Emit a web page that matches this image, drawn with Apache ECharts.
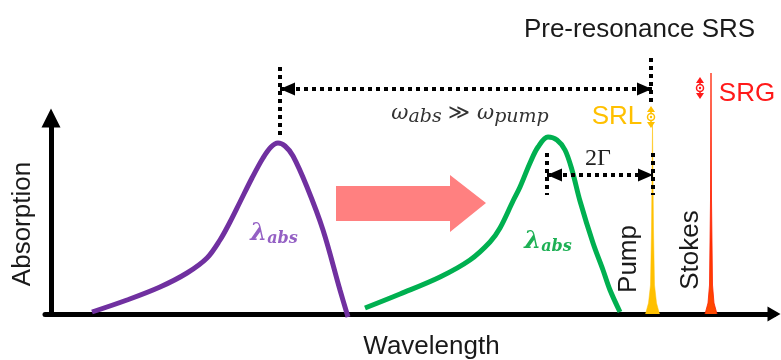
<!DOCTYPE html>
<html><head><meta charset="utf-8">
<script src="https://cdn.jsdelivr.net/npm/echarts@6/dist/echarts.min.js"></script>
<style>html,body{margin:0;padding:0;background:#fff}#c{width:781px;height:360px}</style>
</head><body><div id="c"></div>
<script>
// ---- data (schematic units: x = wavelength position, y = absorption/intensity) ----
const purpleCurve = [[41,2],[76,14],[109,27],[136,41],[156,56],[169,74],[179,92],[189,112],[201,136],[212,156],[220,167],[227,171],[234,168],[242,158],[256,127],[272,84],[289,24],[297,-3]];
const greenCurve = [[314,6],[349,20],[389,37],[419,54],[439,72],[449,86],[462,113],[469,127],[479,151],[487,167],[497,177],[506,174],[514,164],[521,144],[529,113],[542,71],[552,44],[559,24],[569,2]];
const pumpLine = [[594.5,0],[597.5,11],[599.5,29],[600.5,84],[601.5,189],[602.5,84],[603.5,29],[605.5,11],[608.5,0]];
const stokesLine = [[654,0],[657,11],[658.5,29],[659.5,114],[660,241],[660.5,114],[661.5,29],[663,11],[666,0]];
// dotted guides: [x1, y1, x2, y2, arrowAtStart, arrowAtEnd]
const dottedGuides = [[229,247,229,176,0,0],[600,256,600,208,0,0],[229,225,601,225,1,1],[496,161,496,119,0,0],[602,161,602,119,0,0],[496,139,602,139,1,1]];
const shiftArrow = [[285,128],[399,128],[399,139],[435,111],[399,82],[399,93],[285,93]];
const intensityMarks = [[600,197],[649,226]];
const labelText = ['Pre-resonance SRS','SRL','SRG','Pump','Stokes','{w|ω}{s|abs}{o| ≫ }{w|ω}{s|pump}','2Γ','{l|λ}{s|abs}','{l|λ}{s|abs}'];
const labelX = [588.5,566,696,578,640,419,547,223,497];
const labelY = [284,197,220,55,64,200,155,80,72];
const axisNames = ['Wavelength','Absorption'];

const SANS = '"Liberation Sans", Arial, sans-serif';
const SERIF = '"DejaVu Serif", "Liberation Serif", serif';
const TXT = '#1a1a1a';
const ORANGE = '#FFC000';
const RED = '#FF1A1A';
const markColors = [ORANGE, RED];
function mathRich(col){
  return {
    w:{fontSize:21,fontStyle:'italic',fontFamily:SERIF,lineHeight:26,fill:col},
    s:{fontSize:19,fontStyle:'italic',fontFamily:SERIF,lineHeight:22,verticalAlign:'bottom',fill:col},
    o:{fontSize:21,fontFamily:SERIF,lineHeight:26,fill:col}
  };
}
function lamRich(col){
  return {
    l:{fontSize:24,fontStyle:'italic',fontWeight:'bold',fontFamily:SERIF,lineHeight:26,fill:col},
    s:{fontSize:16,fontStyle:'italic',fontWeight:'bold',fontFamily:SERIF,lineHeight:18,verticalAlign:'bottom',fill:col}
  };
}
const labelStyles = [
  {fill:TXT,fontSize:26,fontFamily:SANS},
  {fill:ORANGE,fontSize:26,fontFamily:SANS},
  {fill:RED,fontSize:26,fontFamily:SANS},
  {fill:TXT,fontSize:26,fontFamily:SANS,rot:true},
  {fill:TXT,fontSize:26,fontFamily:SANS,rot:true},
  {fill:'#333',rich:mathRich('#333')},
  {fill:'#222',fontSize:24,fontFamily:'"Liberation Serif", serif'},
  {fill:'#9460C4',rich:lamRich('#9460C4')},
  {fill:'#1EB055',rich:lamRich('#1EB055')}
];

const chart = echarts.init(document.getElementById('c'));
const option = {
  animation:false,
  backgroundColor:'#fff',
  grid:{left:45,right:7,top:118,bottom:46,containLabel:false,outerBoundsMode:'none'},
  xAxis:{type:'value',min:-6,max:723,
    axisLine:{onZero:true,symbol:['none','triangle'],symbolSize:[15,13],lineStyle:{color:'#000',width:5}},
    axisTick:{show:false},axisLabel:{show:false},splitLine:{show:false},
    name:axisNames[0],nameLocation:'middle',nameGap:20,
    nameTextStyle:{fontSize:26,color:TXT,fontFamily:SANS,padding:[0,0,0,44]}},
  yAxis:{type:'value',min:0,max:196,
    axisLine:{onZero:true,symbol:['none','triangle'],symbolSize:[19,19],lineStyle:{color:'#000',width:5}},
    axisTick:{show:false},axisLabel:{show:false},splitLine:{show:false},
    name:axisNames[1],nameLocation:'middle',nameGap:9,nameRotate:90,
    nameTextStyle:{fontSize:26,color:TXT,fontFamily:SANS,padding:[0,16,0,0]}},
  series:[
    {type:'custom',z:1,data:[0],renderItem:function(params,api){
      return {type:'polygon',shape:{points:shiftArrow.map(p=>api.coord(p))},style:{fill:'#FF8080'}};
    }},
    {type:'line',data:purpleCurve,smooth:0.35,symbol:'none',clip:false,z:3,lineStyle:{color:'#7030A0',width:5}},
    {type:'line',data:greenCurve,smooth:0.35,symbol:'none',clip:false,z:3,lineStyle:{color:'#00B050',width:5}},
    {type:'line',data:pumpLine,smooth:false,symbol:'none',clip:false,z:3,lineStyle:{color:ORANGE,width:0.5},areaStyle:{color:ORANGE,opacity:1}},
    {type:'line',data:stokesLine,smooth:false,symbol:'none',clip:false,z:3,lineStyle:{color:'#FF2000',width:0.8},
      areaStyle:{opacity:1,color:new echarts.graphic.LinearGradient(0,0,0,1,[{offset:0,color:'#FF0000'},{offset:1,color:'#FF4A00'}])}},
    {type:'custom',z:5,data:dottedGuides,encode:{x:[0,2],y:[1,3]},renderItem:function(params,api){
      const p1 = api.coord([api.value(0),api.value(1)]);
      const p2 = api.coord([api.value(2),api.value(3)]);
      const kids = [{type:'line',shape:{x1:p1[0],y1:p1[1],x2:p2[0],y2:p2[1]},style:{stroke:'#000',lineWidth:4,lineDash:[4,4]}}];
      const head = function(tip,from){
        const dx=tip[0]-from[0], dy=tip[1]-from[1], L=Math.hypot(dx,dy), ux=dx/L, uy=dy/L;
        const bx=tip[0]-ux*15, by=tip[1]-uy*15;
        return {type:'polygon',shape:{points:[[tip[0],tip[1]],[bx-uy*6.5,by+ux*6.5],[bx+uy*6.5,by-ux*6.5]]},style:{fill:'#000'}};
      };
      if (api.value(4)) kids.push(head(p1,p2));
      if (api.value(5)) kids.push(head(p2,p1));
      return {type:'group',children:kids};
    }},
    {type:'custom',z:6,data:intensityMarks,renderItem:function(params,api){
      const c = api.coord([api.value(0),api.value(1)]);
      const col = markColors[params.dataIndex];
      const x=c[0], y=c[1];
      return {type:'group',children:[
        {type:'line',shape:{x1:x,y1:y-8,x2:x,y2:y+8},style:{stroke:col,lineWidth:1.5}},
        {type:'polygon',shape:{points:[[x,y-11],[x-4,y-5],[x+4,y-5]]},style:{fill:col}},
        {type:'polygon',shape:{points:[[x,y+11],[x-4,y+5],[x+4,y+5]]},style:{fill:col}},
        {type:'circle',shape:{cx:x,cy:y,r:3.5},style:{fill:'#fff',stroke:col,lineWidth:1.5}},
        {type:'circle',shape:{cx:x,cy:y,r:1.2},style:{fill:col}}
      ]};
    }},
    {type:'custom',z:7,data:labelX.map((x,i)=>[x,labelY[i]]),renderItem:function(params,api){
      const i = params.dataIndex;
      const c = api.coord([api.value(0),api.value(1)]);
      const st = labelStyles[i];
      const style = {text:labelText[i],fill:st.fill,align:'center',verticalAlign:'middle'};
      if (st.rich) style.rich = st.rich; else {style.fontSize=st.fontSize; style.fontFamily=st.fontFamily;}
      return {type:'text',x:c[0],y:c[1],rotation:st.rot?Math.PI/2:0,style:style};
    }}
  ]
};
chart.setOption(option);
</script></body></html>
